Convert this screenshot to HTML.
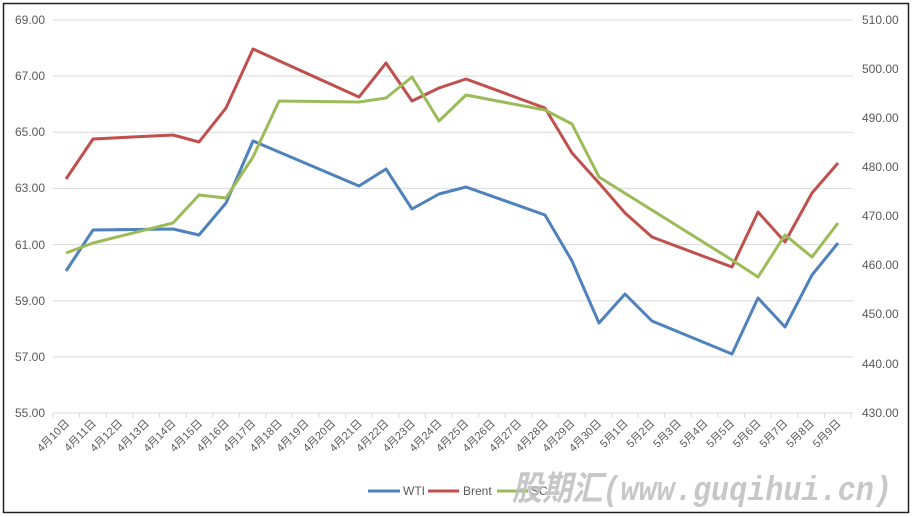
<!DOCTYPE html>
<html><head><meta charset="utf-8"><style>
html,body{margin:0;padding:0;background:#fff;}
svg{display:block;font-family:"Liberation Sans","Noto Sans CJK SC",sans-serif;}
</style></head><body>
<svg width="912" height="517" viewBox="0 0 912 517" xmlns="http://www.w3.org/2000/svg">
<rect x="3.5" y="3.5" width="905" height="509" fill="#fff" stroke="#222" stroke-width="1.5"/>
<g stroke="#d9d9d9" stroke-width="1">
<line x1="53" y1="20" x2="853" y2="20"/>
<line x1="53" y1="76.1" x2="853" y2="76.1"/>
<line x1="53" y1="132.3" x2="853" y2="132.3"/>
<line x1="53" y1="188.4" x2="853" y2="188.4"/>
<line x1="53" y1="244.6" x2="853" y2="244.6"/>
<line x1="53" y1="300.7" x2="853" y2="300.7"/>
<line x1="53" y1="356.9" x2="853" y2="356.9"/>
<line x1="53" y1="413" x2="853" y2="413"/>
</g>
<g stroke="#d9d9d9" stroke-width="1" id="ticks"></g>
<g font-size="12" fill="#595959" text-anchor="end">
<text x="45" y="24">69.00</text><text x="45" y="80">67.00</text><text x="45" y="136">65.00</text><text x="45" y="192">63.00</text><text x="45" y="249">61.00</text><text x="45" y="305">59.00</text><text x="45" y="361">57.00</text><text x="45" y="417">55.00</text>
</g>
<g font-size="12" fill="#595959" text-anchor="start">
<text x="862" y="24">510.00</text><text x="862" y="73">500.00</text><text x="862" y="122">490.00</text><text x="862" y="171">480.00</text><text x="862" y="220">470.00</text><text x="862" y="269">460.00</text><text x="862" y="318">450.00</text><text x="862" y="368">440.00</text><text x="862" y="417">430.00</text>
</g>
<g fill="none" stroke-width="3" stroke-linejoin="round">
<polyline stroke="#4f81bd" points="66,271 93,230 173,229 199,235 226,203 253,141 359,186 386,169 412,209 439,194 466,187 545,215 572,261 599,323 625,294 652,321 732,354 758,298 785,327 812,275 838,243"/>
<polyline stroke="#c0504d" points="66,179 93,139 173,135 199,142 226,108 253,49 359,97 386,63 412,101 439,88 466,79 545,108 572,153 599,183 625,213 652,237 732,267 758,212 785,242 812,193 838,163"/>
<polyline stroke="#9bbb59" points="66,253 93,243 173,223 199,195 226,198 253,157 279,101 359,102 386,98 412,77 439,121 466,95 545,110 572,124 599,177 732,260 758,277 785,235 812,257 838,223"/>
</g>
<g font-size="11" fill="#595959" text-anchor="end" id="xl">
<text transform="translate(70,424) rotate(-45)">4月10日</text>
<text transform="translate(96.6,424) rotate(-45)">4月11日</text>
<text transform="translate(123.2,424) rotate(-45)">4月12日</text>
<text transform="translate(149.8,424) rotate(-45)">4月13日</text>
<text transform="translate(176.4,424) rotate(-45)">4月14日</text>
<text transform="translate(203,424) rotate(-45)">4月15日</text>
<text transform="translate(229.6,424) rotate(-45)">4月16日</text>
<text transform="translate(256.2,424) rotate(-45)">4月17日</text>
<text transform="translate(282.8,424) rotate(-45)">4月18日</text>
<text transform="translate(309.4,424) rotate(-45)">4月19日</text>
<text transform="translate(336,424) rotate(-45)">4月20日</text>
<text transform="translate(362.6,424) rotate(-45)">4月21日</text>
<text transform="translate(389.2,424) rotate(-45)">4月22日</text>
<text transform="translate(415.8,424) rotate(-45)">4月23日</text>
<text transform="translate(442.4,424) rotate(-45)">4月24日</text>
<text transform="translate(469,424) rotate(-45)">4月25日</text>
<text transform="translate(495.6,424) rotate(-45)">4月26日</text>
<text transform="translate(522.2,424) rotate(-45)">4月27日</text>
<text transform="translate(548.8,424) rotate(-45)">4月28日</text>
<text transform="translate(575.4,424) rotate(-45)">4月29日</text>
<text transform="translate(602,424) rotate(-45)">4月30日</text>
<text transform="translate(628.6,424) rotate(-45)">5月1日</text>
<text transform="translate(655.2,424) rotate(-45)">5月2日</text>
<text transform="translate(681.8,424) rotate(-45)">5月3日</text>
<text transform="translate(708.4,424) rotate(-45)">5月4日</text>
<text transform="translate(735,424) rotate(-45)">5月5日</text>
<text transform="translate(761.6,424) rotate(-45)">5月6日</text>
<text transform="translate(788.2,424) rotate(-45)">5月7日</text>
<text transform="translate(814.8,424) rotate(-45)">5月8日</text>
<text transform="translate(841.4,424) rotate(-45)">5月9日</text>
</g>
<g stroke="#d9d9d9">
<line x1="53" y1="413" x2="53" y2="418"/><line x1="79.6" y1="413" x2="79.6" y2="418"/><line x1="106.2" y1="413" x2="106.2" y2="418"/><line x1="132.8" y1="413" x2="132.8" y2="418"/><line x1="159.4" y1="413" x2="159.4" y2="418"/><line x1="186" y1="413" x2="186" y2="418"/><line x1="212.6" y1="413" x2="212.6" y2="418"/><line x1="239.2" y1="413" x2="239.2" y2="418"/><line x1="265.8" y1="413" x2="265.8" y2="418"/><line x1="292.4" y1="413" x2="292.4" y2="418"/><line x1="319" y1="413" x2="319" y2="418"/><line x1="345.6" y1="413" x2="345.6" y2="418"/><line x1="372.2" y1="413" x2="372.2" y2="418"/><line x1="398.8" y1="413" x2="398.8" y2="418"/><line x1="425.4" y1="413" x2="425.4" y2="418"/><line x1="452" y1="413" x2="452" y2="418"/><line x1="478.6" y1="413" x2="478.6" y2="418"/><line x1="505.2" y1="413" x2="505.2" y2="418"/><line x1="531.8" y1="413" x2="531.8" y2="418"/><line x1="558.4" y1="413" x2="558.4" y2="418"/><line x1="585" y1="413" x2="585" y2="418"/><line x1="611.6" y1="413" x2="611.6" y2="418"/><line x1="638.2" y1="413" x2="638.2" y2="418"/><line x1="664.8" y1="413" x2="664.8" y2="418"/><line x1="691.4" y1="413" x2="691.4" y2="418"/><line x1="718" y1="413" x2="718" y2="418"/><line x1="744.6" y1="413" x2="744.6" y2="418"/><line x1="771.2" y1="413" x2="771.2" y2="418"/><line x1="797.8" y1="413" x2="797.8" y2="418"/><line x1="824.4" y1="413" x2="824.4" y2="418"/><line x1="851" y1="413" x2="851" y2="418"/>
</g>
<g stroke-width="3">
<line x1="368" y1="491" x2="400" y2="491" stroke="#4f81bd"/>
<line x1="428" y1="491" x2="459" y2="491" stroke="#c0504d"/>
<line x1="497" y1="491" x2="528" y2="491" stroke="#9bbb59"/>
</g>
<g font-size="12" fill="#595959">
<text x="403" y="495">WTI</text><text x="463" y="495">Brent</text><text x="531" y="495">SC</text>
</g>
<text x="512" y="500" font-size="34" font-weight="bold" font-style="italic" fill="#bdbdbd" fill-opacity="0.85" font-family="'Liberation Mono','Noto Sans CJK SC',monospace" textLength="380" lengthAdjust="spacingAndGlyphs">股期汇(www.guqihui.cn)</text>
</svg>
</body></html>
